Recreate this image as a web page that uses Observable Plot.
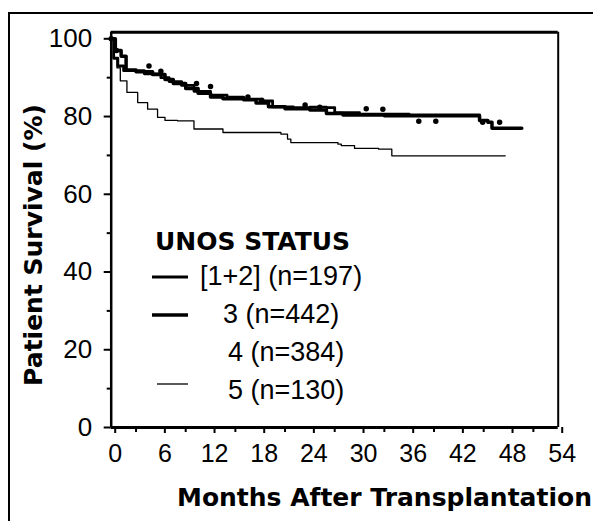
<!DOCTYPE html>
<html>
<head>
<meta charset="utf-8">
<script src="https://cdn.jsdelivr.net/npm/d3@7"></script>
<script src="https://cdn.jsdelivr.net/npm/@observablehq/plot@0.6"></script>
<style>
  html, body { margin: 0; padding: 0; background: white; }
  #wrap { position: relative; width: 593px; height: 521px; overflow: hidden; }
  #wrap > svg { position: absolute; left: 0; top: 0; }
</style>
</head>
<body>
<div id="wrap"></div>
<script>
// ---- data ----
const months12 = [0, 0.3, 0.8, 1.5, 4, 6, 7, 8.5, 10, 12, 14, 16, 18, 19.5, 22, 24, 26, 27, 30, 36, 43, 44.5];
const surv12   = [100, 95, 93, 91.8, 91, 90, 89, 88, 86.5, 85.5, 85, 84.5, 84, 82.5, 82.3, 82.4, 82.3, 81, 80.6, 80.4, 80.4, 79.5];

const months3 = [0, 0.5, 1.2, 1.8, 3, 5, 6.5, 7.5, 9, 10.5, 12, 13.5, 16, 17.5, 19, 21, 24, 26, 28, 33, 43.5, 44.5, 45.5, 46, 49.6];
const surv3   = [100, 97, 95.5, 92, 91.5, 90.8, 89.5, 88.5, 87.2, 86, 85, 84.6, 84.3, 83.5, 82.5, 82, 81.7, 80.8, 80.4, 80.2, 80.2, 79, 78.5, 77, 77];

const months4 = [0, 0.5, 2, 4, 6, 8, 10, 12, 14, 16, 18, 20, 24, 28, 31, 33, 36, 40, 47.5];
const surv4   = [100, 97, 94.5, 93, 91, 89.5, 88.5, 87.3, 86, 85, 84.2, 83, 82.4, 82, 81.9, 80, 78.8, 78.5, 78.5];

const months5 = [0, 0.3, 0.7, 1.1, 1.9, 3.2, 4.4, 5.6, 6.5, 8, 10, 13.5, 20.5, 21.3, 21.7, 27.4, 27.8, 29.4, 32.3, 33.9, 47.6];
const surv5   = [100, 95, 92.5, 89.2, 86.2, 83.6, 81.9, 79.8, 79, 78.9, 76.8, 75.9, 75.5, 74.2, 73.3, 72.9, 72.5, 71.8, 71.6, 69.9, 69.9];

const yTicks = [0, 20, 40, 60, 80, 100];
const yMinor = [10, 30, 50, 70, 90];
const xTicks = [0, 6, 12, 18, 24, 30, 36, 42, 48, 54];
const xMinor = [3, 9, 15, 21, 27, 33, 39, 45, 51];
const xDomain = [0, 54];
const yDomain = [0, 100];
const frameTop = 101.7;

const legendTitle = "UNOS STATUS";
const legendLabels = ["[1+2] (n=197)", "3 (n=442)", "4 (n=384)", "5 (n=130)"];
const yTitle = "Patient Survival (%)";
const xTitle = "Months After Transplantation";

const toRows = (ms, ss) => ms.map((m, i) => ({month: m, surv: ss[i]}));

const chart = Plot.plot({
  width: 593, height: 521,
  marginLeft: 110.7, marginRight: 35.3, marginTop: 38.3, marginBottom: 94,
  x: {domain: xDomain},
  y: {domain: yDomain},
  style: {fontFamily: "'Liberation Sans', Arial, sans-serif", color: "black", background: "white"},
  marks: [
    Plot.axisY({ticks: yTicks, tickSize: 7, tickPadding: 12, fontSize: 26, label: null, strokeWidth: 2}),
    Plot.axisY({ticks: yMinor, tickSize: 4, text: null, label: null, strokeWidth: 2}),
    Plot.axisX({ticks: xTicks, tickSize: 6, tickPadding: 11, fontSize: 25, dx: 4, label: null, strokeWidth: 2}),
    Plot.axisX({ticks: xMinor, tickSize: 5, text: null, label: null, strokeWidth: 2}),
    Plot.ruleX([0], {y1: 0, y2: frameTop, strokeWidth: 2.5}),
    Plot.ruleX([54], {y1: 0, y2: frameTop, strokeWidth: 2}),
    Plot.ruleY([0], {strokeWidth: 3}),
    Plot.ruleY([frameTop], {strokeWidth: 3}),
    Plot.line(toRows(months5, surv5), {x: "month", y: "surv", curve: "step-after", stroke: "black", strokeWidth: 1.3}),
    Plot.line(toRows(months4, surv4), {x: "month", y: "surv", curve: "step-after", stroke: "black", strokeWidth: 5.5, strokeDasharray: "0,17,0,48", strokeLinecap: "round"}),
    Plot.line(toRows(months12, surv12), {x: "month", y: "surv", curve: "step-after", stroke: "black", strokeWidth: 2.8}),
    Plot.line(toRows(months3, surv3), {x: "month", y: "surv", curve: "step-after", stroke: "black", strokeWidth: 3.5})
  ]
});

const wrap = document.getElementById("wrap");
wrap.appendChild(chart);

// ---- overlay: outer frame, axis titles and legend ----
const ov = d3.select(wrap).append("svg")
  .attr("width", 593).attr("height", 521)
  .style("pointer-events", "none");

ov.append("line").attr("x1", 9).attr("x2", 9).attr("y1", 12).attr("y2", 521)
  .attr("stroke", "black").attr("stroke-width", 2);
ov.append("line").attr("x1", 8).attr("x2", 593).attr("y1", 13).attr("y2", 13)
  .attr("stroke", "black").attr("stroke-width", 2);

const boldFont = "'DejaVu Sans', sans-serif";
const regFont = "'Liberation Sans', Arial, sans-serif";

ov.append("text").text(yTitle)
  .attr("transform", "translate(42,245) rotate(-90)")
  .attr("text-anchor", "middle")
  .attr("font-family", boldFont).attr("font-weight", "bold").attr("font-size", 25);

ov.append("text").text(xTitle)
  .attr("x", 177).attr("y", 506)
  .attr("font-family", boldFont).attr("font-weight", "bold").attr("font-size", 25);

ov.append("text").text(legendTitle)
  .attr("x", 155).attr("y", 250)
  .attr("font-family", boldFont).attr("font-weight", "bold").attr("font-size", 25);

const legendRows = [
  {label: legendLabels[0], tx: 200, ty: 285, lx1: 152, lx2: 188, ly: 277, w: 2.8},
  {label: legendLabels[1], tx: 223, ty: 323, lx1: 152, lx2: 188, ly: 315, w: 3.5},
  {label: legendLabels[2], tx: 228, ty: 361, lx1: null},
  {label: legendLabels[3], tx: 228, ty: 399, lx1: 157, lx2: 188, ly: 384, w: 1.3}
];
legendRows.forEach(r => {
  ov.append("text").text(r.label).attr("x", r.tx).attr("y", r.ty)
    .attr("font-family", regFont).attr("font-size", 27);
  if (r.lx1 !== null) {
    ov.append("line").attr("x1", r.lx1).attr("x2", r.lx2).attr("y1", r.ly).attr("y2", r.ly)
      .attr("stroke", "black").attr("stroke-width", r.w);
  }
});
</script>
</body>
</html>
